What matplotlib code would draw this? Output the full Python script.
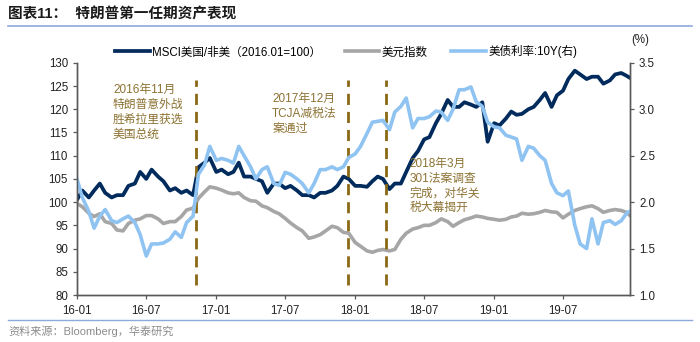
import matplotlib
matplotlib.use("Agg")
import matplotlib.pyplot as plt
import matplotlib.dates as mdates
from matplotlib.lines import Line2D
import pandas as pd

plt.rcParams["font.family"] = ["Liberation Sans", "Noto Sans CJK SC"]

# semi-monthly observations, 2016-01 .. 2019-12
dates = list(pd.date_range("2016-01-01", "2019-12-15", freq="SMS")) + [pd.Timestamp("2019-12-23")]

msci_us_vs_nonus = [
    100.5, 102.5, 101.0, 102.5, 104.0, 102.0, 101.0, 101.5, 101.5, 103.5, 104.0, 106.5,
    105.0, 107.0, 105.5, 104.5, 102.5, 103.0, 102.0, 102.5, 101.5, 107.5, 108.5, 109.5,
    106.5, 107.0, 106.0, 106.5, 108.5, 105.5, 105.5, 105.0, 104.5, 102.0, 104.0, 104.0,
    103.0, 103.5, 102.5, 101.5, 101.5, 101.0, 102.0, 102.0, 102.5, 103.5, 105.5, 105.0,
    103.5, 103.5, 103.3, 104.5, 105.5, 105.0, 102.8, 104.0, 104.0, 106.5, 109.5, 111.0,
    113.5, 114.0, 117.0, 119.0, 122.0, 120.5, 120.5, 121.5, 121.0, 120.5, 121.5, 113.0,
    117.0, 116.5, 118.0, 119.5, 118.8, 119.0, 120.0, 120.5, 122.0, 123.5, 120.5, 123.0,
    124.0, 126.5, 128.3, 127.5, 126.5, 127.0, 127.0, 125.5, 126.2, 127.5, 127.8, 127.2,
    126.8,
]

dollar_index = [
    99.7, 99.0, 97.6, 96.9, 97.5, 95.8, 95.4, 94.0, 93.8, 95.4, 96.1, 96.4,
    97.1, 97.1, 96.4, 95.4, 95.8, 95.8, 96.9, 98.3, 98.7, 100.8, 102.2, 103.3,
    103.0, 102.6, 102.0, 101.8, 102.0, 101.0, 100.3, 100.2, 99.2, 98.8, 98.0, 97.5,
    96.5, 95.5, 94.5, 93.8, 92.2, 92.5, 93.0, 93.8, 94.8, 94.5, 93.5, 93.3,
    91.3, 90.5, 89.5, 89.2, 89.6, 89.8, 89.5, 89.8, 92.0, 93.3, 94.2, 94.5,
    95.0, 95.0, 95.6, 96.4, 95.8, 94.8, 95.6, 96.2, 96.6, 97.0, 96.8, 96.5,
    96.3, 96.1, 96.3, 96.8, 97.0, 97.6, 97.4, 97.5, 97.8, 98.2, 97.9, 97.8,
    96.6, 97.4, 98.2, 98.6, 99.0, 99.2, 98.6, 97.8, 98.2, 98.4, 98.2, 97.8,
    97.2,
]

ust_10y = [
    2.25, 2.05, 1.90, 1.72, 1.85, 1.92, 1.80, 1.78, 1.82, 1.85, 1.78, 1.65,
    1.42, 1.55, 1.55, 1.56, 1.60, 1.68, 1.62, 1.78, 1.85, 2.30, 2.40, 2.60,
    2.45, 2.47, 2.45, 2.42, 2.60, 2.50, 2.38, 2.25, 2.35, 2.38, 2.20, 2.18,
    2.32, 2.30, 2.25, 2.20, 2.10, 2.20, 2.35, 2.35, 2.38, 2.35, 2.38, 2.48,
    2.52, 2.60, 2.74, 2.86, 2.87, 2.88, 2.78, 2.97, 3.03, 3.12, 2.80, 2.90,
    2.90, 2.92, 2.98, 2.97, 2.88, 3.00, 3.21, 3.21, 3.24, 3.08, 3.03, 2.86,
    2.81, 2.80, 2.72, 2.70, 2.68, 2.45, 2.60, 2.58, 2.50, 2.45, 2.20, 2.10,
    2.07, 2.12, 1.75, 1.55, 1.50, 1.82, 1.55, 1.78, 1.80, 1.76, 1.80, 1.88,
    1.90,
]

event_dates = ["2016-11-08", "2017-12-12", "2018-03-22"]
event_texts = [
    "2016年11月\n特朗普意外战\n胜希拉里获选\n美国总统",
    "2017年12月\nTCJA减税法\n案通过",
    "2018年3月\n301法案调查\n完成，对华关\n税大幕揭开",
]
event_text_pos = [(0.065, 0.786), (0.353, 0.781), (0.602, 0.469)]

labels = ["MSCI美国/非美（2016.01=100）", "美元指数", "美债利率:10Y(右)"]

NAVY = "#002B5C"
GREY = "#A6A6A6"
LIGHT = "#8FC3F2"
GOLD = "#8B6914"
GOLD_TXT = "#8C7232"
AXC = "#595959"

fig = plt.figure(figsize=(7, 3.42), dpi=100)
ax = fig.add_axes([0.11, 0.1374, 0.79, 0.679])
ax2 = ax.twinx()

l1, = ax.plot(dates, msci_us_vs_nonus, color=NAVY, lw=2.7, label=labels[0])
l2, = ax.plot(dates, dollar_index, color=GREY, lw=2.6, label=labels[1])
l3, = ax2.plot(dates, ust_10y, color=LIGHT, lw=2.6, label=labels[2])

for d in event_dates:
    ax.plot([pd.Timestamp(d)] * 2, [82.2, 126.3], color=GOLD, lw=2.0,
            linestyle=(0, (4, 2.5)), zorder=5)
for (tx, ty), t in zip(event_text_pos, event_texts):
    ax.text(tx, ty, t, transform=ax.transAxes, color=GOLD_TXT, fontsize=8.5,
            va="center", ha="left", linespacing=1.3)

ax.set_xlim(pd.Timestamp("2016-01-01"), pd.Timestamp("2019-12-24"))
ax.set_ylim(80, 130)
ax.set_yticks(range(80, 131, 5))
ax2.set_ylim(1.0, 3.5)
ax2.set_yticks([1.0, 1.5, 2.0, 2.5, 3.0, 3.5])
ax2.yaxis.set_major_formatter(matplotlib.ticker.FormatStrFormatter("%.1f"))
ax.xaxis.set_major_locator(mdates.MonthLocator(bymonth=[1, 7]))
ax.xaxis.set_major_formatter(mdates.DateFormatter("%y-%m"))

for a in (ax, ax2):
    a.spines["top"].set_visible(False)
    for s in ("left", "right", "bottom"):
        a.spines[s].set_color(AXC)
        a.spines[s].set_linewidth(1.0)
    a.tick_params(length=3, width=0.9, color=AXC, labelsize=8.3, labelcolor="#222222")
ax.tick_params(axis="x", pad=4)

fig.legend([l1, l2, l3], labels, loc="center left",
           bbox_to_anchor=(115 / 700, 1 - 52 / 342), ncol=3, frameon=False,
           fontsize=8.3, handlelength=3.0, handletextpad=0.25, columnspacing=2.0,
           borderpad=0, borderaxespad=0)

fig.text(640 / 700, 1 - 40 / 342, "(%)", ha="center", va="center", fontsize=8.3, color="#222222")

fig.text(8 / 700, 1 - 14 / 342, "图表11：  特朗普第一任期资产表现", ha="left", va="center",
         fontsize=10.5, fontweight="bold", color="#1a1a1a")
fig.add_artist(Line2D([8 / 700, 692 / 700], [1 - 26 / 342] * 2, color="#8EA9DB", lw=1.2))
fig.add_artist(Line2D([8 / 700, 692 / 700], [1 - 320 / 342] * 2, color="#8EA9DB", lw=1.0))
fig.text(8 / 700, 1 - 331 / 342, "资料来源：Bloomberg，华泰研究", ha="left", va="center",
         fontsize=8, color="#8c8c8c")

fig.savefig("out.png", dpi=100)
